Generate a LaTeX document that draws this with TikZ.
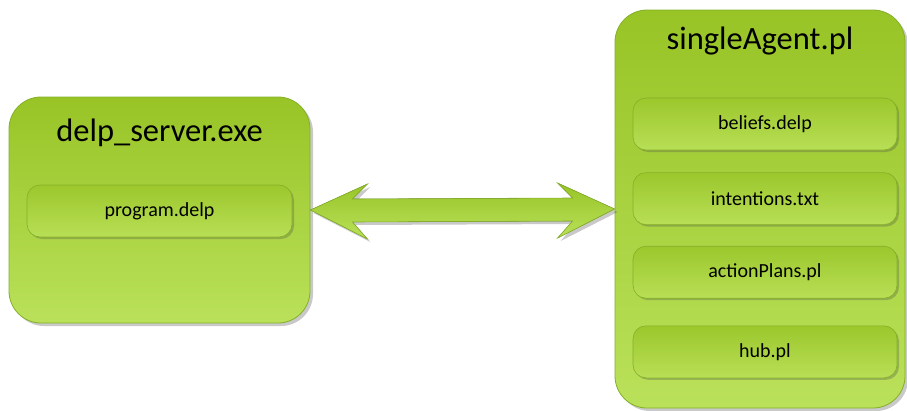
\documentclass[tikz,border=0pt]{standalone}
\usepackage{fontspec}
\setmainfont{Carlito}
\usetikzlibrary{positioning,shadows,calc}

\definecolor{boxtop}{RGB}{152,196,38}
\definecolor{boxbot}{RGB}{186,225,90}
\definecolor{boxline}{RGB}{132,176,40}
\definecolor{filetop}{RGB}{156,199,44}
\definecolor{filebot}{RGB}{184,223,86}

\tikzset{
  module/.style={draw=boxline, line width=0.8pt, rounded corners=32pt,
    top color=boxtop, bottom color=boxbot,
    drop shadow={shadow xshift=3pt, shadow yshift=-3pt, opacity=0.3, fill=black!70}},
  file/.style={draw=boxline, line width=0.6pt, rounded corners=13pt,
    top color=filetop, bottom color=filebot, minimum width=264pt, minimum height=52pt,
    font=\fontsize{20}{24}\selectfont,
    drop shadow={shadow xshift=2pt, shadow yshift=-2pt, opacity=0.3, fill=black!70}},
  title/.style={anchor=base, font=\fontsize{32.5}{36}\selectfont}
}

\begin{document}
\begin{tikzpicture}[x=1pt, y=-1pt]
\useasboundingbox (0,0) rectangle (907,410);

% the two programs
\node[module, minimum width=301pt, minimum height=226pt] (server) at (159.5,210) {};
\node[module, minimum width=290pt, minimum height=398pt] (agent) at (760,209) {};

\node[title] (servername) at ($(server.north)+(0,45)$) {delp\_server.exe};
\node[title] (agentname) at ($(agent.north)+(0,40)$) {singleAgent.pl};

% files loaded by each one
\node[file, minimum width=265pt] (program) at (159.5,211) {program.delp};

\node[file] (beliefs) at (765,124) {beliefs.delp};
\node[file, below=22pt of beliefs] (intentions) {intentions.txt};
\node[file, below=21pt of intentions] (plans) {actionPlans.pl};
\node[file, below=27pt of plans] (hub) {hub.pl};

% two-way link between server and agent
\fill[draw=boxline, line width=0.6pt, top color=boxtop, bottom color=boxbot,
      drop shadow={shadow xshift=3pt, shadow yshift=-3pt, opacity=0.3, fill=black!70}]
  (server.east) -- ++(57,-26) -- ++(-15,15)
  -- ($(agent.west)+(-42,-11)$) -- ($(agent.west)+(-57,-26)$)
  -- (agent.west)
  -- ($(agent.west)+(-57,29)$) -- ($(agent.west)+(-42,12)$)
  -- ($(server.east)+(42,12)$) -- ($(server.east)+(57,29)$) -- cycle;
\end{tikzpicture}
\end{document}
